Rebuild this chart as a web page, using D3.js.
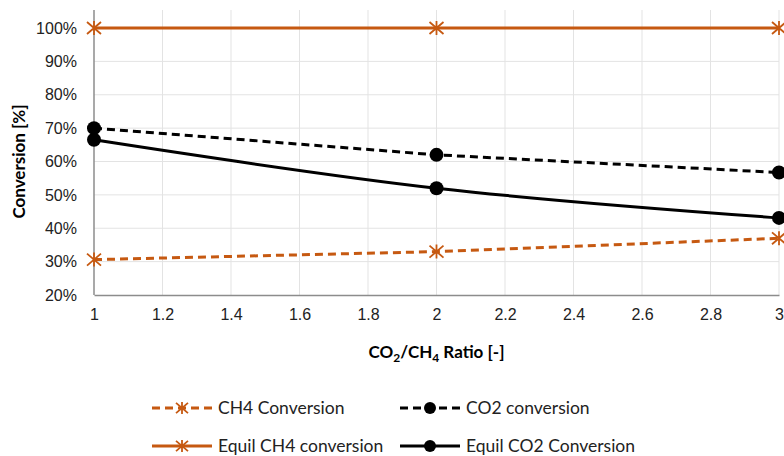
<!DOCTYPE html>
<html>
<head>
<meta charset="utf-8">
<script src="https://cdn.jsdelivr.net/npm/d3@7"></script>
<style>
  html, body { margin: 0; padding: 0; background: #fff; }
  svg { display: block; font-family: Lato, "Open Sans", "Liberation Sans", sans-serif; }
</style>
</head>
<body>
<svg id="chart" width="784" height="456"></svg>
<script>
// CO2/CH4 feed ratio
const ratios = [1, 2, 3];
// Conversion values in percent
const ch4Conversion = [30.6, 33, 37];
const co2Conversion = [70, 62, 56.7];
const equilCh4Conversion = [100, 100, 100];
const equilCo2Conversion = [66.5, 52, 43.1];

const xTicks = [1, 1.2, 1.4, 1.6, 1.8, 2, 2.2, 2.4, 2.6, 2.8, 3];
const yTicks = [20, 30, 40, 50, 60, 70, 80, 90, 100];

const seriesNames = ["CH4 Conversion", "CO2 conversion", "Equil CH4 conversion", "Equil CO2 Conversion"];

const orange = "#C65911";
const series = [
  { name: seriesNames[0], values: ch4Conversion, color: orange, dash: "8,5", marker: "star", curve: d3.curveLinear },
  { name: seriesNames[1], values: co2Conversion, color: "#000", dash: "8,5", marker: "circle", curve: d3.curveLinear },
  { name: seriesNames[2], values: equilCh4Conversion, color: orange, dash: null, marker: "star", curve: d3.curveLinear },
  { name: seriesNames[3], values: equilCo2Conversion, color: "#000", dash: null, marker: "circle", curve: d3.curveCatmullRom.alpha(0.5) }
];

const svg = d3.select("#chart");
const x = d3.scaleLinear().domain([1, 3]).range([94, 779]);
const y = d3.scaleLinear().domain([20, 100]).range([295, 28]);

// Gridlines
const grid = svg.append("g");
grid.selectAll("line.h").data(yTicks.filter(t => t > 20)).join("line")
  .attr("x1", x(1)).attr("x2", x(3))
  .attr("y1", d => y(d)).attr("y2", d => y(d))
  .attr("stroke", "#e3e3e3").attr("stroke-width", 1);
grid.selectAll("line.v").data(xTicks.filter(t => t > 1)).join("line")
  .attr("x1", d => x(d)).attr("x2", d => x(d))
  .attr("y1", y(100) - 18).attr("y2", y(20))
  .attr("stroke", "#e3e3e3").attr("stroke-width", 1);

// Axes
const xAxis = d3.axisBottom(x).tickValues(xTicks).tickSize(0).tickPadding(14)
  .tickFormat(d => d3.format("~g")(d));
const gx = svg.append("g").attr("transform", `translate(0,${y(20)})`).call(xAxis);
gx.select(".domain").attr("stroke", "#8c8c8c").attr("stroke-width", 1.5);
gx.selectAll("text").attr("font-size", 16).attr("fill", "#222");

const yAxis = d3.axisLeft(y).tickValues(yTicks).tickSize(0).tickPadding(17)
  .tickFormat(d => d + "%");
const gy = svg.append("g").attr("transform", `translate(${x(1)},0)`).call(yAxis);
gy.select(".domain").attr("stroke", "#8c8c8c").attr("stroke-width", 1.5)
  .attr("d", `M0,${y(100) - 18}V${y(20)}`);
gy.selectAll("text").attr("font-size", 16).attr("fill", "#222");

// Axis titles
svg.append("text")
  .attr("transform", `translate(25,${(y(20) + y(100)) / 2}) rotate(-90)`)
  .attr("text-anchor", "middle").attr("font-size", 17).attr("font-weight", "bold")
  .text("Conversion [%]");

const xt = svg.append("text").attr("x", x(2)).attr("y", 358)
  .attr("text-anchor", "middle").attr("font-size", 17).attr("font-weight", "bold");
xt.append("tspan").text("CO");
xt.append("tspan").attr("font-size", 12).attr("dy", 4).text("2");
xt.append("tspan").attr("dy", -4).text("/CH");
xt.append("tspan").attr("font-size", 12).attr("dy", 4).text("4");
xt.append("tspan").attr("dy", -4).text(" Ratio [-]");

// Marker drawing: filled circle, or an X crossed by a vertical stroke
function drawMarker(g, type, color, cx, cy, size) {
  if (type === "circle") {
    g.append("circle").attr("cx", cx).attr("cy", cy).attr("r", size * 0.5).attr("fill", color);
  } else {
    const r = size * 0.5;
    const d = `M${cx - r},${cy - r * 0.85}L${cx + r},${cy + r * 0.85}` +
              `M${cx - r},${cy + r * 0.85}L${cx + r},${cy - r * 0.85}` +
              `M${cx},${cy - r}L${cx},${cy + r}`;
    g.append("path").attr("d", d).attr("stroke", color)
      .attr("stroke-width", 1.8).attr("fill", "none");
  }
}

// Series lines and markers
const plot = svg.append("g");
series.forEach(s => {
  const line = d3.line().x((d, i) => x(ratios[i])).y(d => y(d)).curve(s.curve);
  plot.append("path").datum(s.values).attr("d", line)
    .attr("fill", "none").attr("stroke", s.color).attr("stroke-width", 3)
    .attr("stroke-dasharray", s.dash);
  s.values.forEach((v, i) => drawMarker(plot, s.marker, s.color, x(ratios[i]), y(v), 14));
});

// Legend
const legendPos = [[152, 408], [400, 408], [152, 446], [400, 446]];
series.forEach((s, i) => {
  const [lx, ly] = legendPos[i];
  const g = svg.append("g");
  g.append("line").attr("x1", lx).attr("x2", lx + 60).attr("y1", ly).attr("y2", ly)
    .attr("stroke", s.color).attr("stroke-width", 3).attr("stroke-dasharray", s.dash);
  drawMarker(g, s.marker, s.color, lx + 30, ly, s.marker === "circle" ? 12 : 12);
  g.append("text").attr("x", lx + 66).attr("y", ly + 6).attr("font-size", 17.5).attr("fill", "#222")
    .text(s.name);
});
</script>
</body>
</html>
